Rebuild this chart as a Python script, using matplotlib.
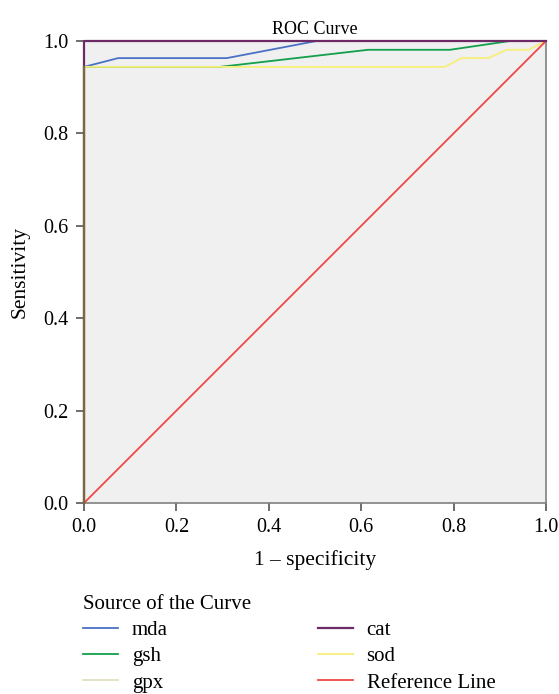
import matplotlib.pyplot as plt

plt.rcParams['font.family'] = ['Liberation Serif', 'DejaVu Serif']

# ROC curves (1 - specificity, sensitivity)
mda_x = [0, 0, 0.074, 0.309, 0.503, 1.0]
mda_y = [0, 0.944, 0.963, 0.963, 1.0, 1.0]

gsh_x = [0, 0, 0.294, 0.615, 0.792, 0.922, 1.0]
gsh_y = [0, 0.944, 0.944, 0.981, 0.981, 1.0, 1.0]

gpx_x = [0, 0, 1.0]
gpx_y = [0, 1.0, 1.0]

cat_x = [0, 0, 1.0]
cat_y = [0, 1.0, 1.0]

sod_x = [0, 0, 0.781, 0.817, 0.875, 0.915, 0.962, 1.0]
sod_y = [0, 0.944, 0.944, 0.963, 0.963, 0.981, 0.981, 1.0]

ref_x = [0, 1]
ref_y = [0, 1]

ticks = [0.0, 0.2, 0.4, 0.6, 0.8, 1.0]

fig = plt.figure(figsize=(5.59, 6.94), dpi=100)
ax = fig.add_axes([0.1503, 0.2752, 0.8264, 0.6657])
ax.set_facecolor('#f0f0f0')

kw = dict(lw=1.3, clip_on=False, zorder=5)
l_mda, = ax.plot(mda_x, mda_y, color='#4a72c4', label='mda', **kw)
l_gsh, = ax.plot(gsh_x, gsh_y, color='#12a04a', label='gsh', **kw)
l_gpx, = ax.plot(gpx_x, gpx_y, color='#e2dfc0', label='gpx', **kw)
l_sod, = ax.plot(sod_x, sod_y, color='#f7ef7a', label='sod', **kw)
l_cat, = ax.plot(cat_x, cat_y, color='#6e2a66', label='cat', lw=1.6,
                 clip_on=False, zorder=6)
l_ref, = ax.plot(ref_x, ref_y, color='#f04848', label='Reference Line', **kw)
# olive vertical part shared by all curves
ax.plot([0, 0], [0, 0.944], color='#7a6a3a', lw=1.6, clip_on=False, zorder=7)

ax.set_xlim(0, 1)
ax.set_ylim(0, 1)
ax.set_xticks(ticks)
ax.set_yticks(ticks)
ax.set_xticklabels([f'{t:.1f}' for t in ticks], fontsize=14.5)
ax.set_yticklabels([f'{t:.1f}' for t in ticks], fontsize=14.5)
ax.tick_params(direction='out', length=6, width=1.2, color='#555555', pad=5)
for s in ax.spines.values():
    s.set_color('#808080')
    s.set_linewidth(1.2)

ax.set_title('ROC Curve', fontsize=13, pad=5)
ax.set_xlabel('1 – specificity', fontsize=15.5, labelpad=9)
ax.set_ylabel('Sensitivity', fontsize=15.5, labelpad=10)

leg = fig.legend(handles=[l_mda, l_gsh, l_gpx, l_cat, l_sod, l_ref],
                 ncol=2, loc='upper left', bbox_to_anchor=(0.133, 0.155),
                 frameon=False, fontsize=15, title='Source of the Curve',
                 title_fontsize=15, alignment='left', handlelength=1.7,
                 handletextpad=0.65, columnspacing=7.2, labelspacing=0.32,
                 borderaxespad=0)

fig.savefig('out.png', dpi=100)
